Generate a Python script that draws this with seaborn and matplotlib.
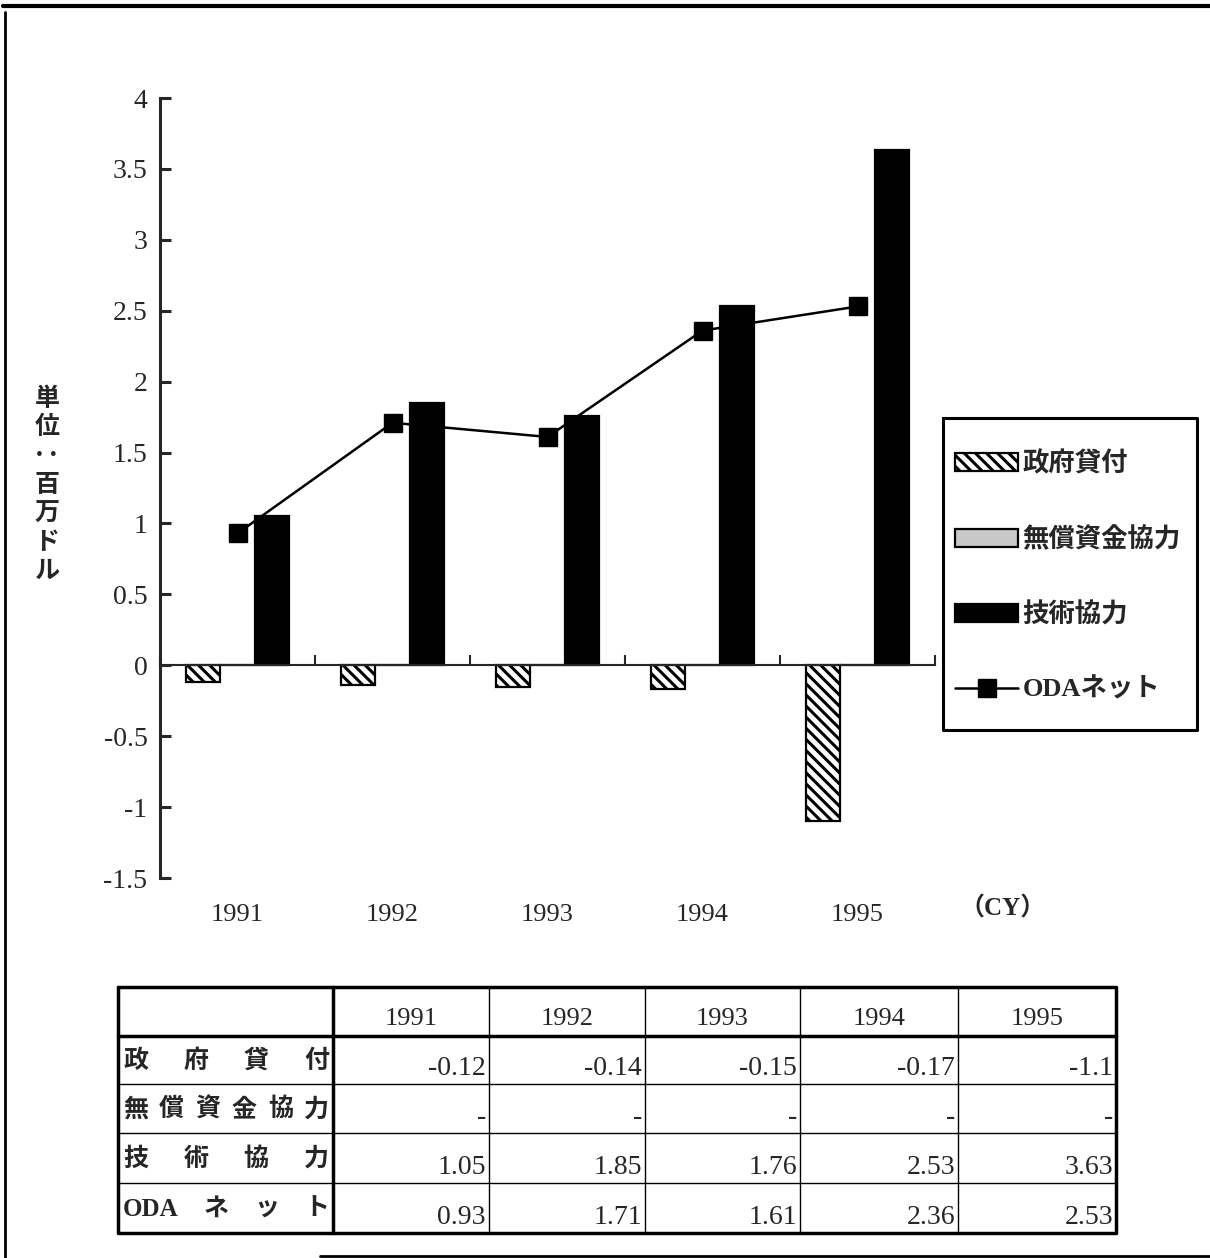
import numpy as np
import pandas as pd
import matplotlib
matplotlib.use("Agg")
import matplotlib.pyplot as plt
import matplotlib.transforms as mtransforms
import seaborn as sns

# data (unit: million dollars)
years = ["1991", "1992", "1993", "1994", "1995"]
series = ["政府貸付", "無償資金協力", "技術協力", "ODAネット"]
loans = [-0.12, -0.14, -0.15, -0.17, -1.1]
grants = [0, 0, 0, 0, 0]          # shown as "-" in the table
tech = [1.05, 1.85, 1.76, 2.53, 3.63]
oda_net = [0.93, 1.71, 1.61, 2.36, 2.53]
ytick_vals = [-1.5, -1, -0.5, 0, 0.5, 1, 1.5, 2, 2.5, 3, 3.5, 4]
ytick_labels = ["-1.5", "-1", "-0.5", "0", "0.5", "1", "1.5", "2", "2.5", "3", "3.5", "4"]

sns.set_style("ticks")
plt.rcParams["font.family"] = ["Liberation Serif", "Noto Sans CJK JP"]
plt.rcParams["hatch.linewidth"] = 2.2

df = pd.DataFrame({
    "year": years * 3,
    "series": [series[0]] * 5 + [series[1]] * 5 + [series[2]] * 5,
    "value": loans + grants + tech,
})

fig = plt.figure(figsize=(12.1, 12.58), dpi=100)
ax = fig.add_axes([160 / 1210, 1 - 878 / 1258, 775 / 1210, 780 / 1258])

sns.barplot(data=df, x="year", y="value", hue="series", hue_order=series[:3],
            palette=["white", "#c8c8c8", "black"], saturation=1, width=0.66,
            errorbar=None, legend=False, edgecolor="black", linewidth=1.6, ax=ax)
for p in ax.containers[0]:
    p.set_hatch("\\\\\\")

line, = ax.plot(np.arange(len(years)), oda_net, color="black", lw=1.8,
                marker="s", markersize=13, zorder=0.9, label=series[3])

ax.set_xlabel("")
ax.set_ylabel("")
ax.set_ylim(-1.5, 4)
ax.set_xlim(-0.5, len(years) - 0.5)
ax.set_yticks(ytick_vals)
ax.set_yticklabels(ytick_labels)
ax.set_xticks(np.arange(-0.5, len(years), 1))
ax.set_xticklabels([])
ax.spines["top"].set_visible(False)
ax.spines["right"].set_visible(False)
ax.spines["bottom"].set_position(("data", 0))
ax.spines["left"].set_linewidth(2.2)
ax.spines["bottom"].set_linewidth(1.5)
ax.tick_params(axis="y", direction="in", length=8, width=2.2, labelsize=20, pad=9)
ax.tick_params(axis="x", direction="in", length=7, width=1.5)

# overlay in pixel coordinates for labels, table and frame
ov = fig.add_axes([0, 0, 1, 1])
ov.set_xlim(0, 1210)
ov.set_ylim(1258, 0)
ov.axis("off")
ov.set_facecolor("none")

blend = mtransforms.blended_transform_factory(ax.transData, ov.transData)
for i, yr in enumerate(years):
    ax.text(i, 915, yr, transform=blend, ha="center", va="center", fontsize=19)
ov.text(1003, 908, "（CY）", ha="center", va="center", fontsize=18, fontweight="bold")

ov.text(47, 485, "単\n位\n··\n百\n万\nド\nル", ha="center", va="center", fontsize=18,
        linespacing=1.25, fontweight="bold", family=["Noto Sans CJK JP", "DejaVu Sans"])

# legend with a hand-placed frame
ov.plot([943, 1197, 1197, 943, 943], [418, 418, 730, 730, 418], color="black", lw=2.2)
handles = [ax.containers[0], ax.containers[1], ax.containers[2], line]
leg = fig.legend(handles, series, loc="upper left",
                 bbox_to_anchor=(955 / 1210, 1 - 451 / 1258), borderaxespad=0,
                 frameon=False, borderpad=0,
                 prop={"size": 19, "weight": "bold"},
                 handlelength=2.4, handleheight=0.7, handletextpad=0.15,
                 labelspacing=1.9)

# data table
col_x = [118, 333, 489, 645, 800, 958, 1116]
row_y = [987, 1036, 1084, 1133, 1183, 1233]
for x in col_x[2:-1]:
    ov.plot([x, x], [row_y[0], row_y[-1]], color="black", lw=1)
for y in row_y[2:-1]:
    ov.plot([col_x[0], col_x[-1]], [y, y], color="black", lw=1)
ov.plot([col_x[0], col_x[-1]], [row_y[1], row_y[1]], color="black", lw=2.5)
ov.plot([col_x[1], col_x[1]], [row_y[0], row_y[-1]], color="black", lw=2.5)
ov.plot([col_x[0], col_x[-1], col_x[-1], col_x[0], col_x[0]],
        [row_y[0], row_y[0], row_y[-1], row_y[-1], row_y[0]], color="black", lw=2.5)

for j, yr in enumerate(years):
    ov.text((col_x[j + 1] + col_x[j + 2]) / 2, 1019, yr, ha="center", va="center", fontsize=19)

renderer = fig.canvas.get_renderer()
table_rows = [loans, grants, tech, oda_net]
for i, (name, vals) in enumerate(zip(series, table_rows)):
    if name.startswith("ODA"):
        tokens = ["ODA"] + list(name[3:])
    else:
        tokens = list(name)
    yc = (row_y[i + 1] + row_y[i + 2]) / 2
    # justify the row label across the first column (equal gaps)
    texts = [ov.text(0, yc + 1, tok, ha="left", va="center", fontsize=18, fontweight="bold")
             for tok in tokens]
    widths = [t.get_window_extent(renderer).width for t in texts]
    x0, x1 = 123, 329
    gap = (x1 - x0 - sum(widths)) / (len(tokens) - 1)
    xk = x0
    for t, w in zip(texts, widths):
        t.set_x(xk)
        xk += w + gap
    for j, v in enumerate(vals):
        txt = "-" if v == 0 else f"{v:g}"
        ov.text(col_x[j + 2] - 3, row_y[i + 2] - 3, txt, ha="right", va="bottom", fontsize=20)

# outer frame of the page
ov.plot([5, 5], [12, 1258], color="black", lw=2)
ov.plot([3, 1210], [6, 6], color="black", lw=3)
ov.plot([320, 1210], [1256, 1256], color="black", lw=2)

fig.savefig("out.png", dpi=100)
